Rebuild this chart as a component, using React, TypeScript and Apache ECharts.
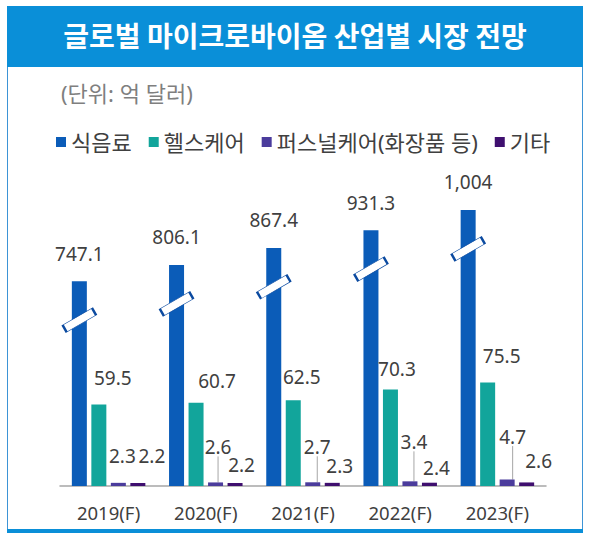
import React, { useEffect, useRef } from 'react';
import * as echarts from 'echarts';

const years = ['2019(F)', '2020(F)', '2021(F)', '2022(F)', '2023(F)'];
const seriesNames = ['식음료', '헬스케어', '퍼스널케어(화장품 등)', '기타'];
const foodBeverage = [747.1, 806.1, 867.4, 931.3, 1004];
const healthcare = [59.5, 60.7, 62.5, 70.3, 75.5];
const personalCare = [2.3, 2.6, 2.7, 3.4, 4.7];
const others = [2.2, 2.2, 2.3, 2.4, 2.6];

const COLORS = ['#0b5cb8', '#12a59b', '#4b3c9c', '#3f0f6f'];
const TEXT = '#404040';
const FRAME = '#0a8fd8';
const FONT = "'Noto Sans', 'Noto Sans CJK KR', sans-serif";

// the food bars are drawn on their own (broken) scale, the slash sits this far below the top
const BREAK_DROP = 140;

// hand placed labels in the original: [dx, gap above bar top]
const tealNudge = [[14, 20], [21, 15], [8.5, 16.6], [6.5, 14], [14, 19.6]];
const purpleNudge = [[4, 20], [2.5, 29], [4.5, 29], [4, 33], [5.5, 36.5]];
const darkNudge = [[14, 20.7], [6.5, 11], [7.5, 10], [7, 8], [12, 15]];

const fmt = (p: any) => Number(p.value).toLocaleString('en-US', { maximumFractionDigits: 1 });
const nudge = (table: number[][]) => (p: any) => ({
  dx: table[p.dataIndex][0],
  dy: -(table[p.dataIndex][1] - 3),
});

const valueLabel = { show: true, position: 'top', fontSize: 19, color: TEXT, formatter: fmt };

export default function App() {
  const chartRef = useRef(null);

  useEffect(() => {
    const myChart = echarts.init(chartRef.current, null, { renderer: 'svg' });

    const option = {
      animation: false,
      textStyle: { fontFamily: FONT },
      title: {
        text: '글로벌 마이크로바이옴 산업별 시장 전망',
        left: 'center',
        top: 16,
        textStyle: {
          color: '#fff',
          fontSize: 28,
          fontWeight: 'bold',
          fontFamily: "'Noto Sans CJK KR', sans-serif",
        },
      },
      legend: {
        data: seriesNames,
        left: 51,
        top: 126,
        icon: 'rect',
        itemWidth: 10,
        itemHeight: 10,
        itemGap: 17,
        textStyle: { fontSize: 22, color: TEXT },
      },
      graphic: [
        {
          type: 'rect',
          shape: { x: 7.5, y: 6.5, width: 575, height: 526 },
          style: { fill: 'none', stroke: '#3d94d6', lineWidth: 1 },
        },
        {
          type: 'rect',
          shape: { x: 7, y: 6, width: 576, height: 61 },
          style: { fill: FRAME },
        },
        {
          type: 'rect',
          shape: { x: 7, y: 529, width: 576, height: 4 },
          style: { fill: FRAME },
        },
        {
          type: 'text',
          x: 61,
          y: 93,
          style: {
            text: '(단위: 억 달러)',
            fill: '#7f7f7f',
            fontSize: 22,
            fontFamily: FONT,
            verticalAlign: 'middle',
          },
        },
      ],
      grid: { left: 60, right: 44, top: 150, bottom: 54 },
      xAxis: {
        type: 'category',
        data: years,
        axisLine: { onZero: false, lineStyle: { color: '#a6a6a6', width: 1.5 } },
        axisTick: { show: false },
        axisLabel: { fontSize: 18.5, color: TEXT, margin: 17 },
      },
      yAxis: [
        { type: 'value', min: 0, max: 245, show: false, splitLine: { show: false } },
        { type: 'value', min: 10, max: 1220, show: false, splitLine: { show: false } },
      ],
      series: [
        {
          name: seriesNames[0],
          type: 'bar',
          yAxisIndex: 1,
          data: foodBeverage,
          barWidth: 15,
          barGap: '30%',
          clip: true,
          itemStyle: { color: COLORS[0] },
          label: { ...valueLabel, distance: 18 },
        },
        {
          name: seriesNames[1],
          type: 'bar',
          data: healthcare,
          barWidth: 15,
          barGap: '30%',
          itemStyle: { color: COLORS[1] },
          label: { ...valueLabel, distance: 0 },
          labelLayout: nudge(tealNudge),
        },
        {
          name: seriesNames[2],
          type: 'bar',
          data: personalCare.map((v, i) => (i === 0 ? { value: v, labelLine: { show: false } } : v)),
          barWidth: 15,
          barGap: '30%',
          itemStyle: { color: COLORS[2] },
          label: { ...valueLabel, distance: 0 },
          labelLayout: nudge(purpleNudge),
          labelLine: { show: true, length2: 0, lineStyle: { color: '#a6a6a6', width: 1 } },
        },
        {
          name: seriesNames[3],
          type: 'bar',
          data: others,
          barWidth: 15,
          barGap: '30%',
          itemStyle: { color: COLORS[3] },
          label: { ...valueLabel, distance: 0 },
          labelLayout: nudge(darkNudge),
        },
        {
          name: 'break',
          type: 'scatter',
          yAxisIndex: 1,
          z: 5,
          silent: true,
          data: foodBeverage.map((v) => v - BREAK_DROP),
          symbol: 'rect',
          symbolSize: [34, 8],
          symbolRotate: 30,
          symbolOffset: [-29.25, 0],
          itemStyle: { color: '#ffffff', opacity: 1, borderColor: '#0b4aa0', borderWidth: 1.2 },
        },
      ],
    };

    myChart.setOption(option);

    return () => {
      myChart.dispose();
    };
  }, []);

  return (
    <div
      ref={chartRef}
      style={{ position: 'fixed', left: 0, top: 0, width: '590px', height: '540px', background: '#fff' }}
    ></div>
  );
}
